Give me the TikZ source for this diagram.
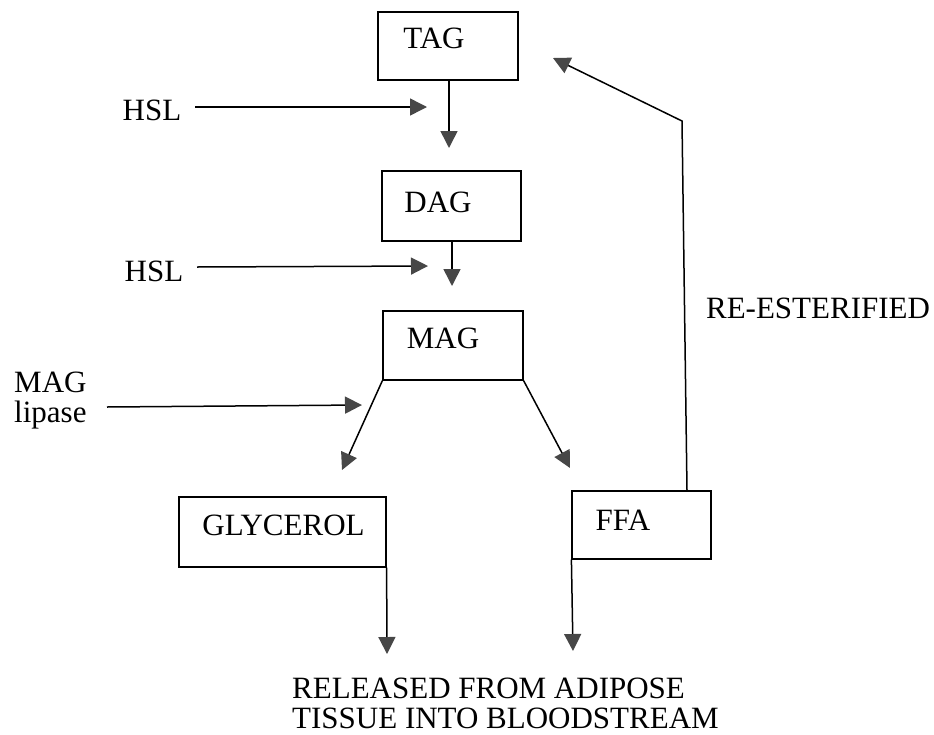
\documentclass[tikz,border=0pt]{standalone}
\usepackage{fontspec}
\setmainfont{Liberation Serif}
\usetikzlibrary{arrows.meta}
\tikzset{
  box/.style={draw=black, line width=1.2pt, inner sep=0pt},
  txt/.style={inner sep=0pt, font=\fontsize{31pt}{30pt}\selectfont},
  conn/.style={draw=black, line width=1.5pt,
    -{Triangle[length=17pt,width=17pt,fill=black!72,color=black!72]}},
  plain/.style={draw=black, line width=1.5pt}
}
\begin{document}
\begin{tikzpicture}[x=1pt,y=-1pt]
\useasboundingbox (0,0) rectangle (934,734);
% boxes
\node[box, minimum width=140pt, minimum height=68pt] (tag) at (448,46) {};
\node[txt] (tagt) at (434,38) {TAG};
\node[box, minimum width=139pt, minimum height=70pt] (dag) at (451.5,206) {};
\node[txt] (dagt) at (438,202) {DAG};
\node[box, minimum width=140pt, minimum height=69pt] (mag) at (453,345.5) {};
\node[txt] (magt) at (443,338) {MAG};
\node[box, minimum width=207pt, minimum height=70pt] (gly) at (282.5,532) {};
\node[txt] (glyt) at (283.5,525) {GLYCEROL};
\node[box, minimum width=139pt, minimum height=68pt] (ffa) at (641.5,525) {};
\node[txt] (ffat) at (623,520) {FFA};
% labels
\node[txt] (hsl1) at (152,110) {HSL};
\node[txt] (hsl2) at (154,271) {HSL};
\node[txt, anchor=west, align=left] (magl) at (14,401) {MAG\\lipase};
\node[txt] (reest) at (818,308) {RE-ESTERIFIED};
\node[txt, anchor=north west, align=left] (rel) at (292,678) {RELEASED FROM ADIPOSE\\TISSUE INTO BLOODSTREAM};
% coordinates
\coordinate (t1) at (449,148);
\coordinate (t2) at (452,286);
\coordinate (tl) at (342,470);
\coordinate (tr) at (570,468);
\coordinate (tg) at (387,654);
\coordinate (tf) at (573,651);
\coordinate (h1s) at (195,107);
\coordinate (h1e) at (427,107);
\coordinate (h2s) at (197,267);
\coordinate (h2e) at (428,266);
\coordinate (mls) at (107,407);
\coordinate (mle) at (362,405);
\coordinate (rtop) at (687,491);
\coordinate (rbend) at (682,121);
\coordinate (rtip) at (553,58);
% connectors
\draw[conn] (tag.south -| t1) -- (t1);
\draw[conn] (dag.south -| t2) -- (t2);
\draw[conn] (mag.south west) -- (tl);
\draw[conn] (mag.south east) -- (tr);
\draw[conn] (gly.south east) -- (tg);
\draw[conn] (ffa.south west) -- (tf);
\draw[conn] (h1s) -- (h1e);
\draw[conn] (h2s) -- (h2e);
\draw[conn] (mls) -- (mle);
\draw[conn] (ffa.north -| rtop) -- (rbend) -- (rtip);
\end{tikzpicture}
\end{document}
